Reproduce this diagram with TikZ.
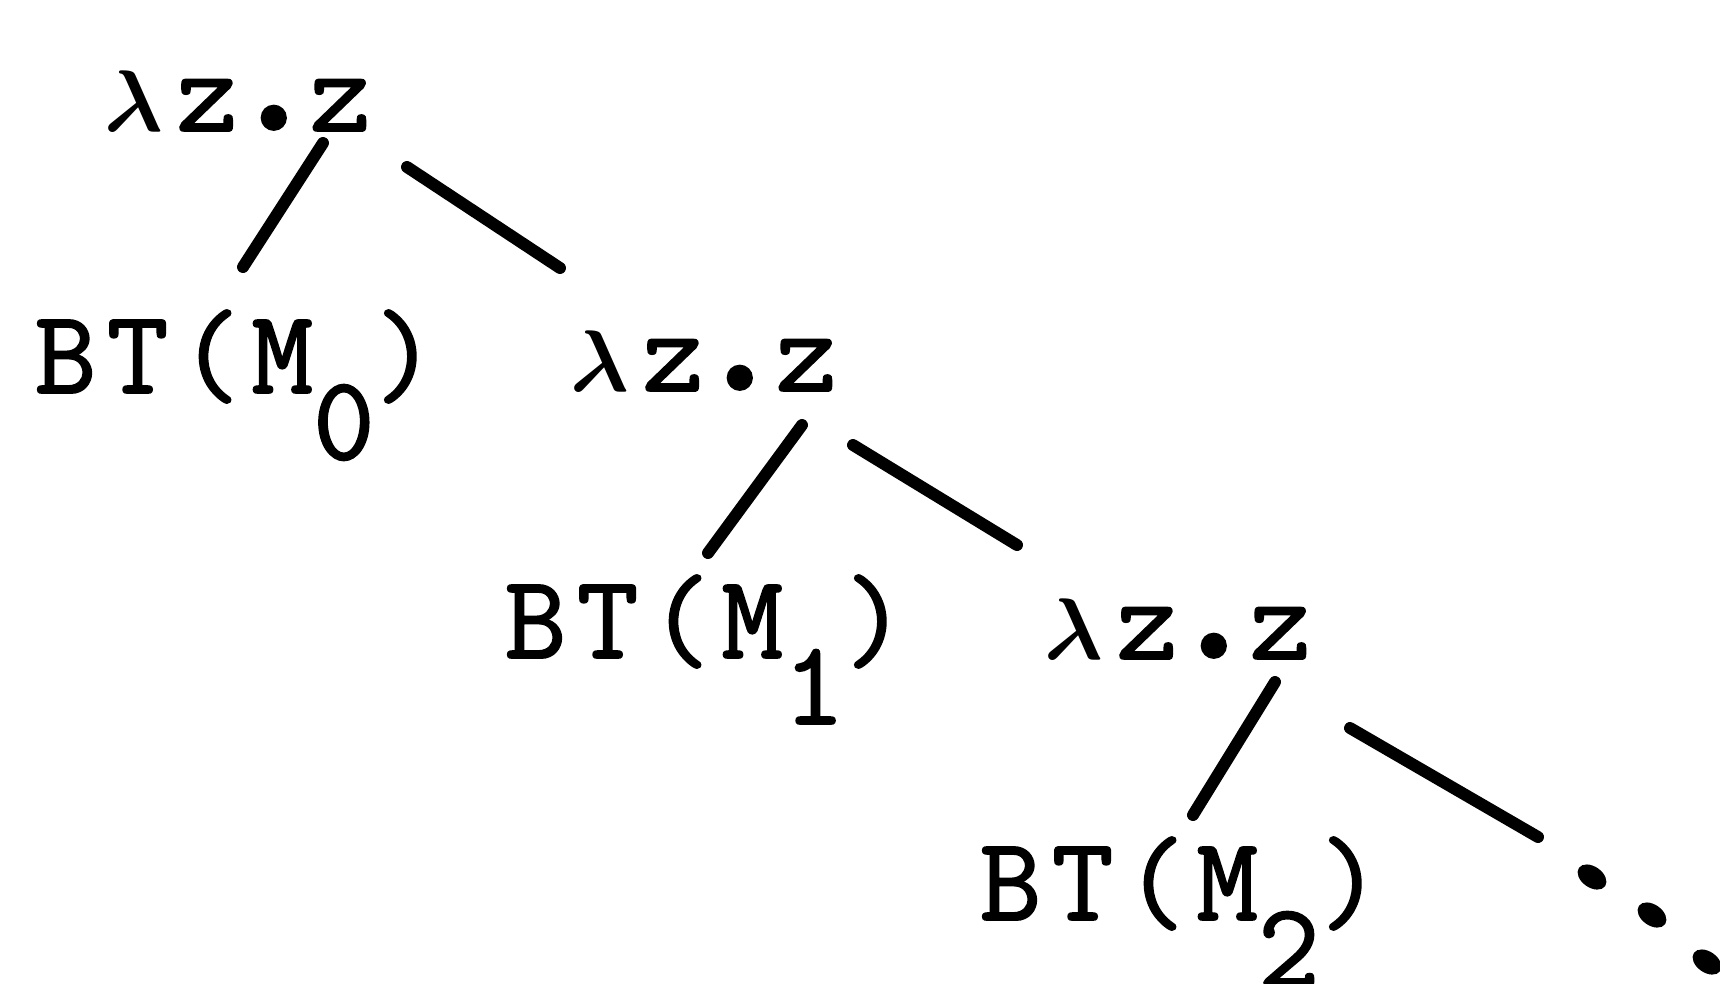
\documentclass[tikz,border=0pt]{standalone}
\usepackage{graphicx}
\usepackage{fontspec}
\newfontfamily\typewriter{Latin Modern Mono}[FakeBold=1.6, LetterSpace=9]
\newcommand{\lowidx}[1]{\raisebox{-0.66cm}{#1}}
\newcommand{\zdot}{\makebox[0.6em][c]{\raisebox{0.5pt}{\scalebox{1.7}{.}}}}
\newcommand{\lam}{\makebox[0.6em][l]{\boldmath$\lambda$}}

\begin{document}
\begin{tikzpicture}[
    term/.style={anchor=base west, inner sep=0pt, font=\fontsize{34}{38}\selectfont\typewriter},
    branch/.style={line width=3.4pt, line cap=round},
    trail/.style={fill=black}
]
    \useasboundingbox (0,0) rectangle (17.2,-9.83);

    % Spine of abstractions
    \node[term] (lam0) at (1.04,-1.31) {\lam z\zdot z};
    \node[term] (lam1) at (5.70,-3.91) {\lam z\zdot z};
    \node[term] (lam2) at (10.44,-6.59) {\lam z\zdot z};

    % Leaves
    \node[term] (bt0) at (0.34,-3.93) {BT(M\lowidx{0})};
    \node[term] (bt1) at (5.04,-6.58) {BT(M\lowidx{1})};
    \node[term] (bt2) at (9.79,-9.20) {BT(M\lowidx{2})};

    \coordinate (more) at (15.38,-8.37);

    % Branches
    \draw[branch] ([shift={(2.19,-0.12)}]lam0.base west) -- ([shift={(2.09,1.26)}]bt0.base west);
    \draw[branch] ([shift={(3.03,-0.36)}]lam0.base west) -- ([shift={(-0.10,1.23)}]lam1.base west);
    \draw[branch] ([shift={(2.32,-0.34)}]lam1.base west) -- ([shift={(2.04,1.05)}]bt1.base west);
    \draw[branch] ([shift={(2.83,-0.54)}]lam1.base west) -- ([shift={(-0.27,1.14)}]lam2.base west);
    \draw[branch] ([shift={(2.31,-0.23)}]lam2.base west) -- ([shift={(2.14,1.05)}]bt2.base west);
    \draw[branch] ([shift={(3.06,-0.69)}]lam2.base west) -- (more);

    % Trailing dots
    \foreach \x/\y in {15.92/-8.77, 16.52/-9.15, 17.07/-9.62}
        \fill[trail] (\x,\y) circle [x radius=0.16, y radius=0.105, rotate=-35];
\end{tikzpicture}
\end{document}
